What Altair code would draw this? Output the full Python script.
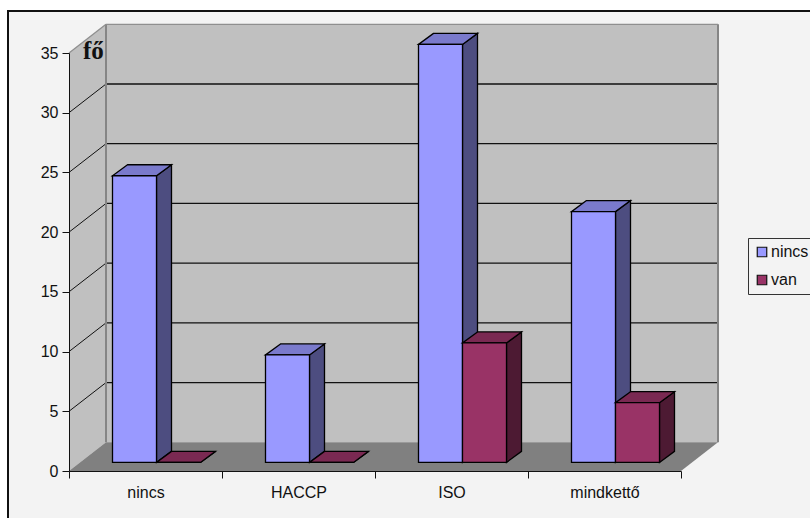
import altair as alt
import pandas as pd

# Chart data
categories = ["nincs", "HACCP", "ISO", "mindkettő"]
series_names = ["nincs", "van"]
nincs_values = [24, 9, 35, 21]
van_values = [0, 0, 10, 5]
y_ticks = [0, 5, 10, 15, 20, 25, 30, 35]
unit_label = ["fő"]

# Oblique projection, in axis units (x: categories, y: persons)
WALL_DX, WALL_DY = 37 / 153, 28.7 / 11.94
BAR_DX, BAR_DY = 15 / 153, 11 / 11.94
BAR_X0, BAR_Y0 = 43.5 / 153, 0.72
BAR_W = 44 / 153
FONT = "Liberation Sans"

front_fill = {"nincs": "#9999ff", "van": "#993366"}
side_fill = {"nincs": "#4d4d80", "van": "#4d1a33"}
top_fill = {"nincs": "#7a7acc", "van": "#7a2952"}

X = alt.X("x:Q", axis=None, scale=alt.Scale(domain=[0, 4], nice=False, zero=False))
Y = alt.Y("y:Q", title=None, stack=False,
          scale=alt.Scale(domain=[0, 35], nice=False, zero=False),
          axis=alt.Axis(values=y_ticks, grid=False, labelFont=FONT, labelFontSize=16,
                        labelColor="#111111", labelPadding=4, tickSize=7, tickColor="#111111",
                        domainColor="#111111", zindex=1))


def rect(rows, **mark):
    return alt.Chart(pd.DataFrame(rows)).mark_rect(**mark).encode(x=X, x2="x2:Q", y=Y, y2="y2:Q")


def rule(rows, **mark):
    return alt.Chart(pd.DataFrame(rows)).mark_rule(**mark).encode(x=X, x2="x2:Q", y=Y, y2="y2:Q")


def side_face(rows, **mark):
    return (alt.Chart(pd.DataFrame(rows)).mark_area(orient="vertical", **mark)
            .encode(x=X, y=Y, y2="y2:Q", detail="face:N"))


def top_face(rows, **mark):
    return (alt.Chart(pd.DataFrame(rows)).mark_area(orient="horizontal", **mark)
            .encode(x=X, x2="x2:Q", y=Y, detail="face:N"))


# Frame around the whole chart, running off the right and bottom edges
frame = rect([{"x": -61 / 153, "x2": 5.0, "y": 35 + 42 / 11.94, "y2": -10.0}],
             fill="#f3f3f3", stroke="#111111", strokeWidth=2)

# Box walls and floor
left_wall = side_face(
    [{"face": "w", "x": 0.0, "y": 35.0, "y2": 0.0},
     {"face": "w", "x": WALL_DX, "y": 35 + WALL_DY, "y2": WALL_DY}],
    fill="#c0c0c0")
back_wall = rect([{"x": WALL_DX, "x2": 4 + WALL_DX, "y": 35 + WALL_DY, "y2": WALL_DY}], fill="#c0c0c0")
floor = top_face(
    [{"face": "f", "x": 0.0, "x2": 4.0, "y": 0.0},
     {"face": "f", "x": WALL_DX, "x2": 4 + WALL_DX, "y": WALL_DY}],
    fill="#808080")

# Gridlines across the back wall and down the left wall
back_grid = rule(
    [{"x": WALL_DX, "x2": 4 + WALL_DX, "y": t + WALL_DY, "y2": t + WALL_DY} for t in y_ticks[1:-1]],
    color="#111111", strokeWidth=1.3)
left_grid = rule(
    [{"x": 0.0, "x2": WALL_DX, "y": t, "y2": t + WALL_DY} for t in y_ticks[1:-1]],
    color="#111111", strokeWidth=1)
wall_sides = rule(
    [{"x": WALL_DX, "x2": WALL_DX, "y": WALL_DY, "y2": 35 + WALL_DY},
     {"x": 4 + WALL_DX, "x2": 4 + WALL_DX, "y": WALL_DY, "y2": 35 + WALL_DY}],
    color="#858585", strokeWidth=2)
wall_top = rule(
    [{"x": WALL_DX, "x2": 4 + WALL_DX, "y": 35 + WALL_DY, "y2": 35 + WALL_DY},
     {"x": 0.0, "x2": WALL_DX, "y": 35.0, "y2": 35 + WALL_DY}],
    color="#8f8f8f", strokeWidth=1.3)

# Invisible band layer that carries the category axis
band_axis = alt.Chart(pd.DataFrame({"cat": categories})).mark_rect(opacity=0).encode(
    x=alt.X("cat:N", sort=categories, title=None,
            scale=alt.Scale(paddingInner=0, paddingOuter=0),
            axis=alt.Axis(tickBand="extent", labelAngle=0, labelFont=FONT, labelFontSize=16,
                          labelColor="#111111", labelPadding=6, tickSize=7, tickColor="#111111",
                          domainColor="#111111", zindex=1, labelFlush=False)))

# Bars: one stack of faces per series, nincs first so van overlaps its side face
color = alt.Color(
    "series:N",
    scale=alt.Scale(domain=series_names, range=[front_fill[s] for s in series_names]),
    legend=alt.Legend(
        orient="none", legendX=679, legendY=185, title=None, symbolType="square",
        symbolSize=90, symbolStrokeColor="#111111", symbolStrokeWidth=1.2,
        labelFont=FONT, labelFontSize=16, labelColor="#111111", labelOffset=1,
        rowPadding=12, padding=6, fillColor="#f3f3f3", strokeColor="#333333",
        symbolOpacity=1))


def series_layers(name, values, offset):
    fronts, sides, tops = [], [], []
    for i, (cat, v) in enumerate(zip(categories, values)):
        x0 = i + BAR_X0 + offset * BAR_W
        x1 = x0 + BAR_W
        base, head = BAR_Y0, BAR_Y0 + v
        fronts.append({"series": name, "x": x0, "x2": x1, "y": head, "y2": base})
        sides += [{"face": cat, "x": x1, "y": head, "y2": base},
                  {"face": cat, "x": x1 + BAR_DX, "y": head + BAR_DY, "y2": base + BAR_DY}]
        tops += [{"face": cat, "x": x0, "x2": x1, "y": head},
                 {"face": cat, "x": x0 + BAR_DX, "x2": x1 + BAR_DX, "y": head + BAR_DY}]
    edge = dict(stroke="#000000", strokeWidth=1.3)
    return [
        side_face(sides, fill=side_fill[name], **edge),
        top_face(tops, fill=top_fill[name], **edge),
        alt.Chart(pd.DataFrame(fronts)).mark_rect(stroke="#000000", strokeWidth=1.3, opacity=1)
        .encode(x=X, x2="x2:Q", y=Y, y2="y2:Q", color=color),
    ]


unit_text = alt.Chart(pd.DataFrame({"t": unit_label, "x": [14 / 153], "y": [35 - 5.5 / 11.94]})).mark_text(
    font="Liberation Serif", fontWeight="bold", fontSize=25, align="left", baseline="alphabetic",
    color="#111111").encode(x=X, y=Y, text="t:N")

chart = alt.layer(
    frame, left_wall, back_wall, floor, back_grid, left_grid, wall_sides, wall_top,
    band_axis,
    *series_layers("nincs", nincs_values, 0),
    *series_layers("van", van_values, 1),
    unit_text,
).resolve_scale(x="independent").properties(
    width=612, height=418,
    padding={"left": 69, "top": 53, "right": 129, "bottom": 47},
    autosize=alt.AutoSizeParams(type="none"),
    background="#ffffff",
).configure_view(stroke=None)

chart.save("out.html", embed_options={"renderer": "svg", "actions": False})
